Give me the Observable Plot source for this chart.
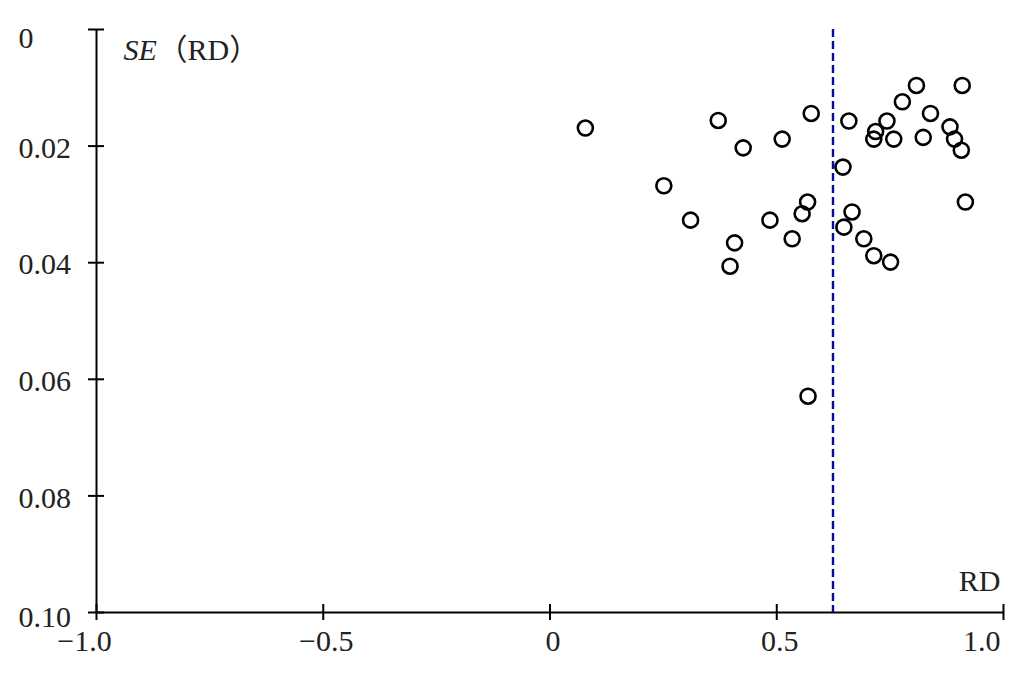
<!DOCTYPE html>
<html>
<head>
<meta charset="utf-8">
<script src="https://cdn.jsdelivr.net/npm/d3@7"></script>
<script src="https://cdn.jsdelivr.net/npm/@observablehq/plot@0.6"></script>
<style>
  html, body { margin: 0; padding: 0; background: #fff; }
  #chart svg { display: block; }
  #chart svg text { font-family: "Liberation Serif", "Times New Roman", "Noto Sans CJK SC", serif; }
</style>
</head>
<body>
<div id="chart"></div>
<script>
// Study risk differences (RD) and their standard errors SE(RD)
const rd = [0.078, 0.371, 0.426, 0.512, 0.251, 0.310, 0.485, 0.407, 0.397, 0.534,
            0.576, 0.659, 0.808, 0.909, 0.777, 0.839, 0.743, 0.718, 0.714, 0.758,
            0.823, 0.882, 0.892, 0.907, 0.646, 0.916, 0.568, 0.556, 0.666, 0.648,
            0.692, 0.714, 0.751, 0.569];
const se = [0.0169, 0.0156, 0.0203, 0.0188, 0.0268, 0.0327, 0.0327, 0.0366, 0.0406, 0.0359,
            0.0144, 0.0157, 0.0096, 0.0096, 0.0124, 0.0144, 0.0157, 0.0175, 0.0188, 0.0188,
            0.0185, 0.0167, 0.0188, 0.0207, 0.0236, 0.0296, 0.0296, 0.0316, 0.0313, 0.0339,
            0.0359, 0.0388, 0.0399, 0.0629];
const pooledRD = [0.624];
const xDomain = [-1, 1];
const yDomain = [0, 0.10];
const xTicks = [-1.0, -0.5, 0, 0.5, 1.0];
const xTickLabels = ["−1.0", "−0.5", "0", "0.5", "1.0"];
const yTicks = [0, 0.02, 0.04, 0.06, 0.08, 0.10];
const yTickLabels = ["0", "0.02", "0.04", "0.06", "0.08", "0.10"];
const yTitle = ["SE", "（RD）"];
const xTitle = "RD";

const points = rd.map((x, i) => ({rd: x, se: se[i]}));
const xt = xTicks.map((v, i) => ({v, label: xTickLabels[i]}));
const yt = yTicks.map((v, i) => ({v, label: yTickLabels[i]}));

const fs = 30;
const tc = "#222";

const chart = Plot.plot({
  width: 1030,
  height: 681,
  marginLeft: 96,
  marginRight: 27,
  marginTop: 29,
  marginBottom: 69,
  style: {background: "#fff"},
  x: {domain: xDomain, axis: null},
  y: {domain: yDomain, reverse: true, axis: null},
  marks: [
    // axis lines
    Plot.ruleX([xDomain[0]], {y1: yDomain[0], y2: yDomain[1], stroke: "#000", strokeWidth: 2}),
    Plot.ruleY([yDomain[1]], {x1: xDomain[0], x2: xDomain[1], stroke: "#000", strokeWidth: 2}),
    // crossing tick marks
    Plot.ruleY(yTicks, {x1: xDomain[0], x2: xDomain[0], insetLeft: -8, insetRight: -8, stroke: "#000", strokeWidth: 2}),
    Plot.ruleX(xTicks, {y1: yDomain[1], y2: yDomain[1], insetTop: -8, insetBottom: -8, stroke: "#000", strokeWidth: 2}),
    // pooled estimate
    Plot.ruleX(pooledRD, {y1: yDomain[0], y2: yDomain[1], stroke: "#0a0aa0", strokeWidth: 2.4, strokeDasharray: "8,4"}),
    // studies
    Plot.dot(points, {x: "rd", y: "se", r: 7.5, stroke: "#000", strokeWidth: 2.6, fill: "none"}),
    // y tick labels
    Plot.text(yt.slice(0, 1), {y: "v", text: "label", frameAnchor: "left", dx: -78, dy: 9, textAnchor: "start", fontSize: fs, fill: tc}),
    Plot.text(yt.slice(1, -1), {y: "v", text: "label", frameAnchor: "left", dx: -78, dy: 2, textAnchor: "start", fontSize: fs, fill: tc}),
    Plot.text(yt.slice(-1), {y: "v", text: "label", frameAnchor: "left", dx: -78, dy: 5, textAnchor: "start", fontSize: fs, fill: tc}),
    // x tick labels
    Plot.text(xt.slice(0, 1), {x: "v", text: "label", frameAnchor: "bottom", dx: -12, dy: 38, fontSize: fs, fill: tc}),
    Plot.text(xt.slice(1, -1), {x: "v", text: "label", frameAnchor: "bottom", dx: 3, dy: 38, fontSize: fs, fill: tc}),
    Plot.text(xt.slice(-1), {x: "v", text: "label", frameAnchor: "bottom", dx: -3, dy: 38, textAnchor: "end", fontSize: fs, fill: tc}),
    // axis titles
    Plot.text([yTitle[0]], {frameAnchor: "top-left", dx: 27, dy: 9, textAnchor: "start", fontSize: fs, fontStyle: "italic", fill: tc}),
    Plot.text([yTitle[1]], {frameAnchor: "top-left", dx: 61, dy: 9, textAnchor: "start", fontSize: fs, fill: tc}),
    Plot.text([xTitle], {frameAnchor: "bottom-right", dx: -3, dy: -22, textAnchor: "end", fontSize: fs, fill: tc})
  ]
});
document.getElementById("chart").appendChild(chart);
</script>
</body>
</html>
